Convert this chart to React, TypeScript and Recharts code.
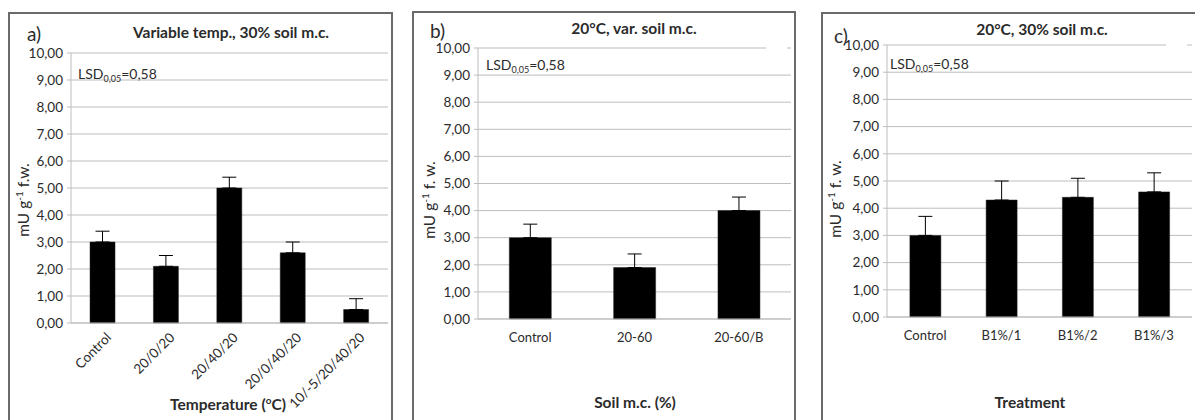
import React from "react";
import { BarChart, Bar, XAxis, YAxis, CartesianGrid, ErrorBar } from "recharts";

// panel a) variable temperature
const categoriesA = ["Control", "20/0/20", "20/40/20", "20/0/40/20", "10/-5/20/40/20"];
const valuesA = [3.0, 2.1, 5.0, 2.6, 0.5];
const errorsA = [0.4, 0.4, 0.4, 0.4, 0.4];

// panel b) variable soil moisture
const categoriesB = ["Control", "20-60", "20-60/B"];
const valuesB = [3.0, 1.9, 4.0];
const errorsB = [0.5, 0.5, 0.5];

// panel c) treatment
const categoriesC = ["Control", "B1%/1", "B1%/2", "B1%/3"];
const valuesC = [3.0, 4.3, 4.4, 4.6];
const errorsC = [0.7, 0.7, 0.7, 0.7];

const yTicks = [0, 1, 2, 3, 4, 5, 6, 7, 8, 9, 10];

const FONT = "Lato, 'Open Sans', sans-serif";
const GRID = "#bdbdbd";
const TEXT = "#2b2b2b";

const fmt = (v: number) => v.toFixed(2).replace(".", ",");

function buildData(cats: string[], vals: number[], errs: number[]) {
  return cats.map((c, i) => ({ name: c, value: vals[i], err: [0, errs[i]] }));
}

type TxtProps = {
  x: number;
  y: number;
  size?: number;
  bold?: boolean;
  left?: boolean;
  rotate?: boolean;
  children: React.ReactNode;
};

function Txt({ x, y, size = 14, bold, left, rotate, children }: TxtProps) {
  let transform = left ? "translate(0,-50%)" : "translate(-50%,-50%)";
  if (rotate) transform += " rotate(-90deg)";
  return (
    <div
      style={{
        position: "absolute",
        left: x,
        top: y,
        transform,
        fontFamily: FONT,
        fontSize: size,
        fontWeight: bold ? 700 : 400,
        color: TEXT,
        whiteSpace: "nowrap",
        lineHeight: 1,
      }}
    >
      {children}
    </div>
  );
}

const Lsd = () => (
  <span>
    LSD<sub style={{ fontSize: 9 }}>0,05</sub>=0,58
  </span>
);

// rotated category label for panel a
const SlantTick = (props: any) => {
  const { x, y, payload } = props;
  return (
    <g transform={`translate(${x + 6},${y + 6}) rotate(-45)`}>
      <text x={0} y={0} dy="0.35em" textAnchor="end" fontSize={13.5} fill={TEXT} fontFamily={FONT}>
        {payload.value}
      </text>
    </g>
  );
};

type ChartProps = {
  data: { name: string; value: number; err: number[] }[];
  x0: number;
  x1: number;
  y0: number;
  y1: number;
  axisH: number;
  rotated?: boolean;
};

function PanelChart({ data, x0, x1, y0, y1, axisH, rotated }: ChartProps) {
  const YW = 60;
  const MT = 10;
  const MR = 6;
  const width = x1 - x0 + YW + MR;
  const height = y1 - y0 + MT + axisH;
  return (
    <div style={{ position: "absolute", left: x0 - YW, top: y0 - MT }}>
      <BarChart
        width={width}
        height={height}
        data={data}
        margin={{ top: MT, right: MR, left: 0, bottom: 0 }}
        barCategoryGap="30%"
      >
        <CartesianGrid vertical={false} stroke={GRID} strokeWidth={1} />
        <XAxis
          dataKey="name"
          height={axisH}
          interval={0}
          axisLine={{ stroke: GRID }}
          tickLine={false}
          tickMargin={rotated ? 0 : 8}
          tick={rotated ? <SlantTick /> : { fontSize: 13, fill: TEXT, fontFamily: FONT }}
        />
        <YAxis
          width={YW}
          domain={[0, 10]}
          ticks={yTicks}
          interval={0}
          tickFormatter={fmt}
          axisLine={{ stroke: GRID }}
          tickLine={{ stroke: GRID }}
          tickSize={4}
          tickMargin={4}
          tick={{ fontSize: 13.5, fill: TEXT, fontFamily: FONT }}
        />
        <Bar dataKey="value" fill="#000" stroke="#222" strokeWidth={0.5} isAnimationActive={false}>
          <ErrorBar dataKey="err" direction="y" width={7} stroke="#000" strokeWidth={1} isAnimationActive={false} />
        </Bar>
      </BarChart>
    </div>
  );
}

const border = (left: number, top: number, width: number): React.CSSProperties => ({
  position: "absolute",
  left,
  top,
  width,
  height: 440,
  border: "2px solid #6a6a6a",
  boxSizing: "border-box",
  background: "#fff",
});

const gap = (left: number, top: number, width: number): React.CSSProperties => ({
  position: "absolute",
  left,
  top,
  width,
  height: 3,
  background: "#fff",
});

export default function App() {
  const dataA = buildData(categoriesA, valuesA, errorsA);
  const dataB = buildData(categoriesB, valuesB, errorsB);
  const dataC = buildData(categoriesC, valuesC, errorsC);

  return (
    <div
      style={{
        position: "absolute",
        left: 0,
        top: 0,
        width: 1195,
        height: 420,
        overflow: "hidden",
        background: "#fff",
      }}
    >
      <div style={border(8, 12, 385)} />
      <div style={border(412, 11, 384)} />
      <div style={border(821, 12, 400)} />

      <PanelChart data={dataA} x0={71} x1={388} y0={53} y1={323} axisH={97} rotated />
      <PanelChart data={dataB} x0={478} x1={791} y0={48} y1={319} axisH={60} />
      <PanelChart data={dataC} x0={887} x1={1192} y0={45} y1={317} axisH={60} />

      {/* small breaks in the top gridline of panels b and c */}
      <div style={gap(766, 47, 21)} />
      <div style={gap(1166, 44, 21)} />

      {/* panel a */}
      <Txt x={27} y={33} size={19} left>a)</Txt>
      <Txt x={231} y={33} size={15.5} bold>Variable temp., 30% soil m.c.</Txt>
      <Txt x={78} y={75} left><Lsd /></Txt>
      <Txt x={23} y={200} size={15.5} rotate>
        mU g<sup style={{ fontSize: 10 }}>-1</sup> f.w.
      </Txt>
      <Txt x={228} y={404} size={15.5} bold>
        Temperature (<sup style={{ fontSize: 10 }}>o</sup>C)
      </Txt>

      {/* panel b */}
      <Txt x={430} y={30} size={19} left>b)</Txt>
      <Txt x={634} y={29} size={15.5} bold>20°C, var. soil m.c.</Txt>
      <Txt x={486} y={66} left><Lsd /></Txt>
      <Txt x={429} y={200} size={15.5} rotate>
        mU g<sup style={{ fontSize: 10 }}>-1</sup> f. w.
      </Txt>
      <Txt x={635} y={403} size={15.5} bold>Soil m.c. (%)</Txt>

      {/* panel c */}
      <Txt x={834} y={35} size={19} left>c)</Txt>
      <Txt x={1042} y={30} size={15.5} bold>20°C, 30% soil m.c.</Txt>
      <Txt x={890} y={65} left><Lsd /></Txt>
      <Txt x={835} y={199} size={15.5} rotate>
        mU g<sup style={{ fontSize: 10 }}>-1</sup> f. w.
      </Txt>
      <Txt x={1030} y={403} size={15.5} bold>Treatment</Txt>
    </div>
  );
}
